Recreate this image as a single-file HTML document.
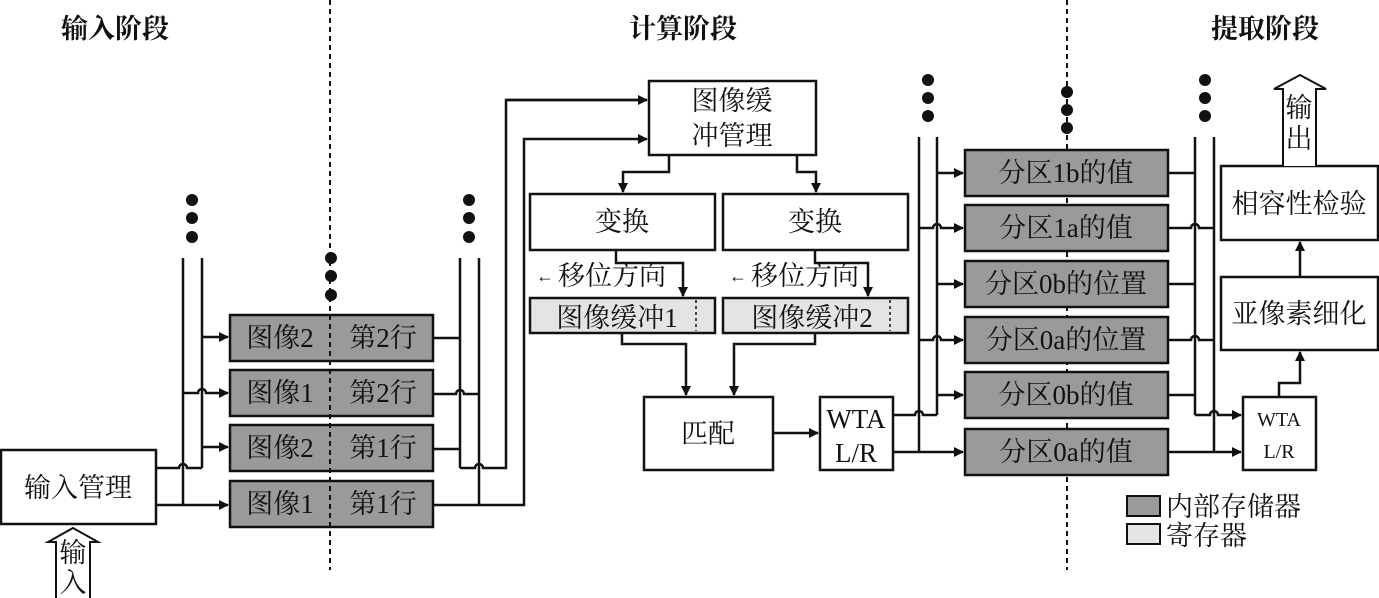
<!DOCTYPE html>
<html><head><meta charset="utf-8"><style>
html,body{margin:0;padding:0;background:#fff}
svg{display:block}
text{font-family:"Liberation Serif","Noto Serif CJK SC",serif;fill:#111}
</style></head><body>
<svg width="1379" height="598" viewBox="0 0 1379 598" xmlns="http://www.w3.org/2000/svg">
<defs>
<marker id="a" markerWidth="10" markerHeight="10" refX="9" refY="5" orient="auto" markerUnits="userSpaceOnUse">
<path d="M0,0 L10,5 L0,10 z" fill="#111"/></marker>
</defs>
<g stroke="#111" stroke-width="2.5" fill="none">
<line x1="330" y1="0" x2="330" y2="570" stroke-dasharray="5,4" stroke-width="2"/>
<line x1="1067" y1="0" x2="1067" y2="570" stroke-dasharray="5,4" stroke-width="2"/>
</g>
<g font-size="27" text-anchor="middle" font-weight="bold">
<text x="115" y="38">输入阶段</text>
<text x="683" y="38">计算阶段</text>
<text x="1265" y="38">提取阶段</text>
</g>
<g fill="#111">
<circle cx="192" cy="200" r="6"/><circle cx="192" cy="218" r="6"/><circle cx="192" cy="237" r="6"/>
<circle cx="331" cy="258" r="6"/><circle cx="331" cy="276" r="6"/><circle cx="331" cy="295" r="6"/>
<circle cx="469" cy="200" r="6"/><circle cx="469" cy="218" r="6"/><circle cx="469" cy="237" r="6"/>
<circle cx="928" cy="80" r="6"/><circle cx="928" cy="98" r="6"/><circle cx="928" cy="116" r="6"/>
<circle cx="1067" cy="92" r="6"/><circle cx="1067" cy="110" r="6"/><circle cx="1067" cy="128" r="6"/>
<circle cx="1205" cy="80" r="6"/><circle cx="1205" cy="98" r="6"/><circle cx="1205" cy="116" r="6"/>
</g>
<g stroke="#111" stroke-width="2.5" fill="none">
<rect x="1" y="450" width="155" height="74" fill="#fff"/>
<line x1="183" y1="258" x2="183" y2="505"/>
<line x1="202" y1="258" x2="202" y2="468"/>
<path d="M156,468 H179 A4,4 0 0 1 187,468 H202"/>
<path d="M156,505 H228" marker-end="url(#a)"/>
<path d="M202,337 H228" marker-end="url(#a)"/>
<path d="M183,393 H198 A4,4 0 0 1 206,393 H228" marker-end="url(#a)"/>
<path d="M202,447 H228" marker-end="url(#a)"/>
<rect x="230" y="315" width="203" height="46" fill="#9a9a9a"/>
<rect x="230" y="370" width="203" height="46" fill="#9a9a9a"/>
<rect x="230" y="425" width="203" height="46" fill="#9a9a9a"/>
<rect x="230" y="481" width="203" height="46" fill="#9a9a9a"/>
<line x1="460" y1="258" x2="460" y2="468"/>
<line x1="479" y1="258" x2="479" y2="505"/>
<path d="M433,338 H460"/>
<path d="M433,394 H456 A4,4 0 0 1 464,394 H479"/>
<path d="M433,449 H460"/>
<path d="M460,468 H475 A4,4 0 0 1 483,468 H506 V100 H647" />
<path d="M506,100 H647" marker-end="url(#a)"/>
<path d="M433,505 H524 V139 H647" marker-end="url(#a)"/>
<rect x="649" y="81" width="167" height="74" fill="#fff"/>
<path d="M669,155 V172 H623 V192" marker-end="url(#a)"/>
<path d="M797,155 V172 H816 V192" marker-end="url(#a)"/>
<rect x="530" y="194" width="185" height="56" fill="#fff"/>
<rect x="723" y="194" width="185" height="56" fill="#fff"/>
<path d="M616,250 V263 H683 V296" marker-end="url(#a)"/>
<path d="M815,250 V263 H868 V296" marker-end="url(#a)"/>
<rect x="530" y="298" width="185" height="35" fill="#e4e4e4"/>
<rect x="723" y="298" width="185" height="35" fill="#e4e4e4"/>
<line x1="696" y1="300" x2="696" y2="331" stroke-width="1.5" stroke-dasharray="3,3"/>
<line x1="890" y1="300" x2="890" y2="331" stroke-width="1.5" stroke-dasharray="3,3"/>
<path d="M622,333 V344 H686 V395" marker-end="url(#a)"/>
<path d="M815,333 V344 H734 V395" marker-end="url(#a)"/>
<rect x="644" y="397" width="129" height="73" fill="#fff"/>
<path d="M773,433 H818" marker-end="url(#a)"/>
<rect x="820" y="397" width="73" height="73" fill="#fff"/>
<line x1="919" y1="137" x2="919" y2="452"/>
<line x1="937" y1="137" x2="937" y2="415"/>
<path d="M893,415 H915 A4,4 0 0 1 923,415 H937"/>
<path d="M893,452 H963" marker-end="url(#a)"/>
<path d="M937,173 H963" marker-end="url(#a)"/>
<path d="M919,228 H933 A4,4 0 0 1 941,228 H963" marker-end="url(#a)"/>
<path d="M937,284 H963" marker-end="url(#a)"/>
<path d="M919,340 H933 A4,4 0 0 1 941,340 H963" marker-end="url(#a)"/>
<path d="M937,395 H963" marker-end="url(#a)"/>
<rect x="965" y="150" width="203" height="46" fill="#9a9a9a"/>
<rect x="965" y="205" width="203" height="46" fill="#9a9a9a"/>
<rect x="965" y="261" width="203" height="46" fill="#9a9a9a"/>
<rect x="965" y="317" width="203" height="46" fill="#9a9a9a"/>
<rect x="965" y="372" width="203" height="46" fill="#9a9a9a"/>
<rect x="965" y="429" width="203" height="46" fill="#9a9a9a"/>
<line x1="1195" y1="137" x2="1195" y2="415"/>
<line x1="1214" y1="137" x2="1214" y2="452"/>
<path d="M1168,173 H1195"/>
<path d="M1168,228 H1191 A4,4 0 0 1 1199,228 H1214"/>
<path d="M1168,284 H1195"/>
<path d="M1168,340 H1191 A4,4 0 0 1 1199,340 H1214"/>
<path d="M1168,395 H1195"/>
<path d="M1195,415 H1210 A4,4 0 0 1 1218,415 H1241" marker-end="url(#a)"/>
<path d="M1168,452 H1241" marker-end="url(#a)"/>
<rect x="1243" y="397" width="73" height="73" fill="#fff"/>
<path d="M1279,397 V383 H1300 V352" marker-end="url(#a)"/>
<rect x="1221" y="277" width="157" height="73" fill="#fff"/>
<path d="M1300,277 V242" marker-end="url(#a)"/>
<rect x="1221" y="166" width="157" height="74" fill="#fff"/>
<path d="M1283,166 V89 H1274 L1300,75 L1326,89 H1316 V166" fill="#fff" stroke-width="2"/>
<path d="M56,598 V542 H48 L73,528 L98,542 H90 V598" fill="#fff" stroke-width="2"/>
<rect x="1127" y="496" width="33" height="20" fill="#9a9a9a" stroke-width="2"/>
<rect x="1127" y="524" width="33" height="20" fill="#e4e4e4" stroke-width="2"/>
</g>
<line x1="330" y1="315" x2="330" y2="527" stroke="#111" stroke-width="2" stroke-dasharray="5,4"/>
<g font-size="27" text-anchor="middle">
<text x="78" y="497">输入管理</text>
<text x="280" y="347">图像2</text><text x="383" y="347">第2行</text>
<text x="280" y="402">图像1</text><text x="383" y="402">第2行</text>
<text x="280" y="457">图像2</text><text x="383" y="457">第1行</text>
<text x="280" y="513">图像1</text><text x="383" y="513">第1行</text>
<text x="732" y="110">图像缓</text>
<text x="732" y="145">冲管理</text>
<text x="622" y="231">变换</text>
<text x="815" y="231">变换</text>
<text x="612" y="285">移位方向</text>
<text x="805" y="285">移位方向</text>
<text x="617" y="327">图像缓冲1</text>
<text x="812" y="327">图像缓冲2</text>
<text x="708" y="443">匹配</text>
<text x="856" y="428">WTA</text>
<text x="856" y="462">L/R</text>
<text x="1066" y="182">分区1b的值</text>
<text x="1066" y="237">分区1a的值</text>
<text x="1066" y="293">分区0b的位置</text>
<text x="1066" y="349">分区0a的位置</text>
<text x="1066" y="404">分区0b的值</text>
<text x="1066" y="461">分区0a的值</text>
<text x="1299" y="323">亚像素细化</text>
<text x="1299" y="213">相容性检验</text>
<text x="1299" y="117">输</text>
<text x="1299" y="148">出</text>
<text x="73" y="562">输</text>
<text x="73" y="592">入</text>
</g>
<g font-size="20" text-anchor="middle">
<text x="1279" y="426">WTA</text>
<text x="1279" y="458">L/R</text>
</g>
<g font-size="18"><text x="536" y="282">←</text><text x="729" y="282">←</text></g>
<g font-size="27">
<text x="1166" y="516">内部存储器</text>
<text x="1166" y="545">寄存器</text>
</g>
</svg>
</body></html>
